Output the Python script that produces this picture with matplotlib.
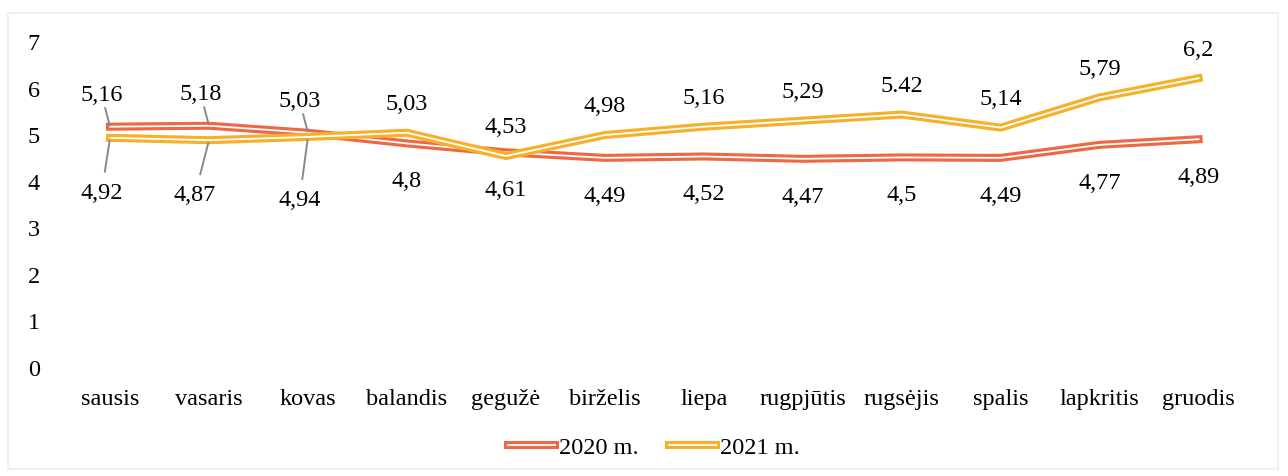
import matplotlib.pyplot as plt
import matplotlib.patheffects as pe
from matplotlib.patches import Rectangle

# duomenys
menesiai = ['sausis', 'vasaris', 'kovas', 'balandis', 'gegužė', 'birželis',
            'liepa', 'rugpjūtis', 'rugsėjis', 'spalis', 'lapkritis', 'gruodis']
m2020 = [5.16, 5.18, 5.03, 4.8, 4.61, 4.49, 4.52, 4.47, 4.5, 4.49, 4.77, 4.89]
m2021 = [4.92, 4.87, 4.94, 5.03, 4.53, 4.98, 5.16, 5.29, 5.42, 5.14, 5.79, 6.2]
etiketes2020 = ['5,16', '5,18', '5,03', '4,8', '4,61', '4,49', '4,52', '4,47', '4,5', '4,49', '4,77', '4,89']
etiketes2021 = ['4,92', '4,87', '4,94', '5,03', '4,53', '4,98', '5,16', '5,29', '5.42', '5,14', '5,79', '6,2']

plt.rcParams['font.family'] = ['Liberation Serif', 'DejaVu Serif']
plt.rcParams['font.size'] = 17.5

spalva2020 = '#ef6845'
spalva2021 = '#f6b02a'

fig = plt.figure(figsize=(12.88, 4.77), dpi=100)
fig.patches.append(Rectangle((8 / 1288, 7 / 477), 1270 / 1288, 456 / 477,
                             transform=fig.transFigure, fill=False,
                             edgecolor='#f0f0f0', lw=1.5))
ax = fig.add_axes([0.047, 0.2285, 0.922, 0.6835])

x = list(range(len(menesiai)))


def dviguba(spalva):
    return [pe.Stroke(linewidth=5.8, foreground=spalva), pe.Normal()]


ax.plot(x, m2020, color='white', lw=1.3, label='2020 m.', path_effects=dviguba(spalva2020))
ax.plot(x, m2021, color='white', lw=1.3, label='2021 m.', path_effects=dviguba(spalva2021))

# etiketes: pirmi trys menesiai su linijomis
for i in range(len(menesiai)):
    if i < 3:
        dx_b = [-6, -10, -6][i]
        dy_b = [-39, -39, -45][i]
        ax.annotate(etiketes2020[i], (i, m2020[i]), xytext=(-6, 23), textcoords='offset points',
                    ha='center', va='center',
                    arrowprops=dict(arrowstyle='-', color='#8a8a8a', lw=1.4,
                                    shrinkA=0, shrinkB=1))
        ax.annotate(etiketes2021[i], (i, m2021[i]), xytext=(dx_b, dy_b), textcoords='offset points',
                    ha='center', va='center',
                    arrowprops=dict(arrowstyle='-', color='#8a8a8a', lw=1.4,
                                    shrinkA=5, shrinkB=2))
    else:
        ax.annotate(etiketes2021[i], (i, m2021[i]), xytext=(0, 21), textcoords='offset points',
                    ha='center', va='center')
        ax.annotate(etiketes2020[i], (i, m2020[i]), xytext=(0, -27), textcoords='offset points',
                    ha='center', va='center')

ax.set_xlim(-0.5, 11.5)
ax.set_ylim(0, 7)
ax.set_yticks(range(0, 8))
ax.set_xticks(x)
ax.set_xticklabels(menesiai)
ax.tick_params(length=0)
ax.tick_params(axis='y', pad=15)
ax.tick_params(axis='x', pad=15)
for s in ax.spines.values():
    s.set_visible(False)

ax.legend(loc='upper center', bbox_to_anchor=(0.5, -0.145), ncol=2, frameon=False,
          handlelength=1.9, columnspacing=1.25, handletextpad=0.2)

fig.savefig('out.png', dpi=100)
